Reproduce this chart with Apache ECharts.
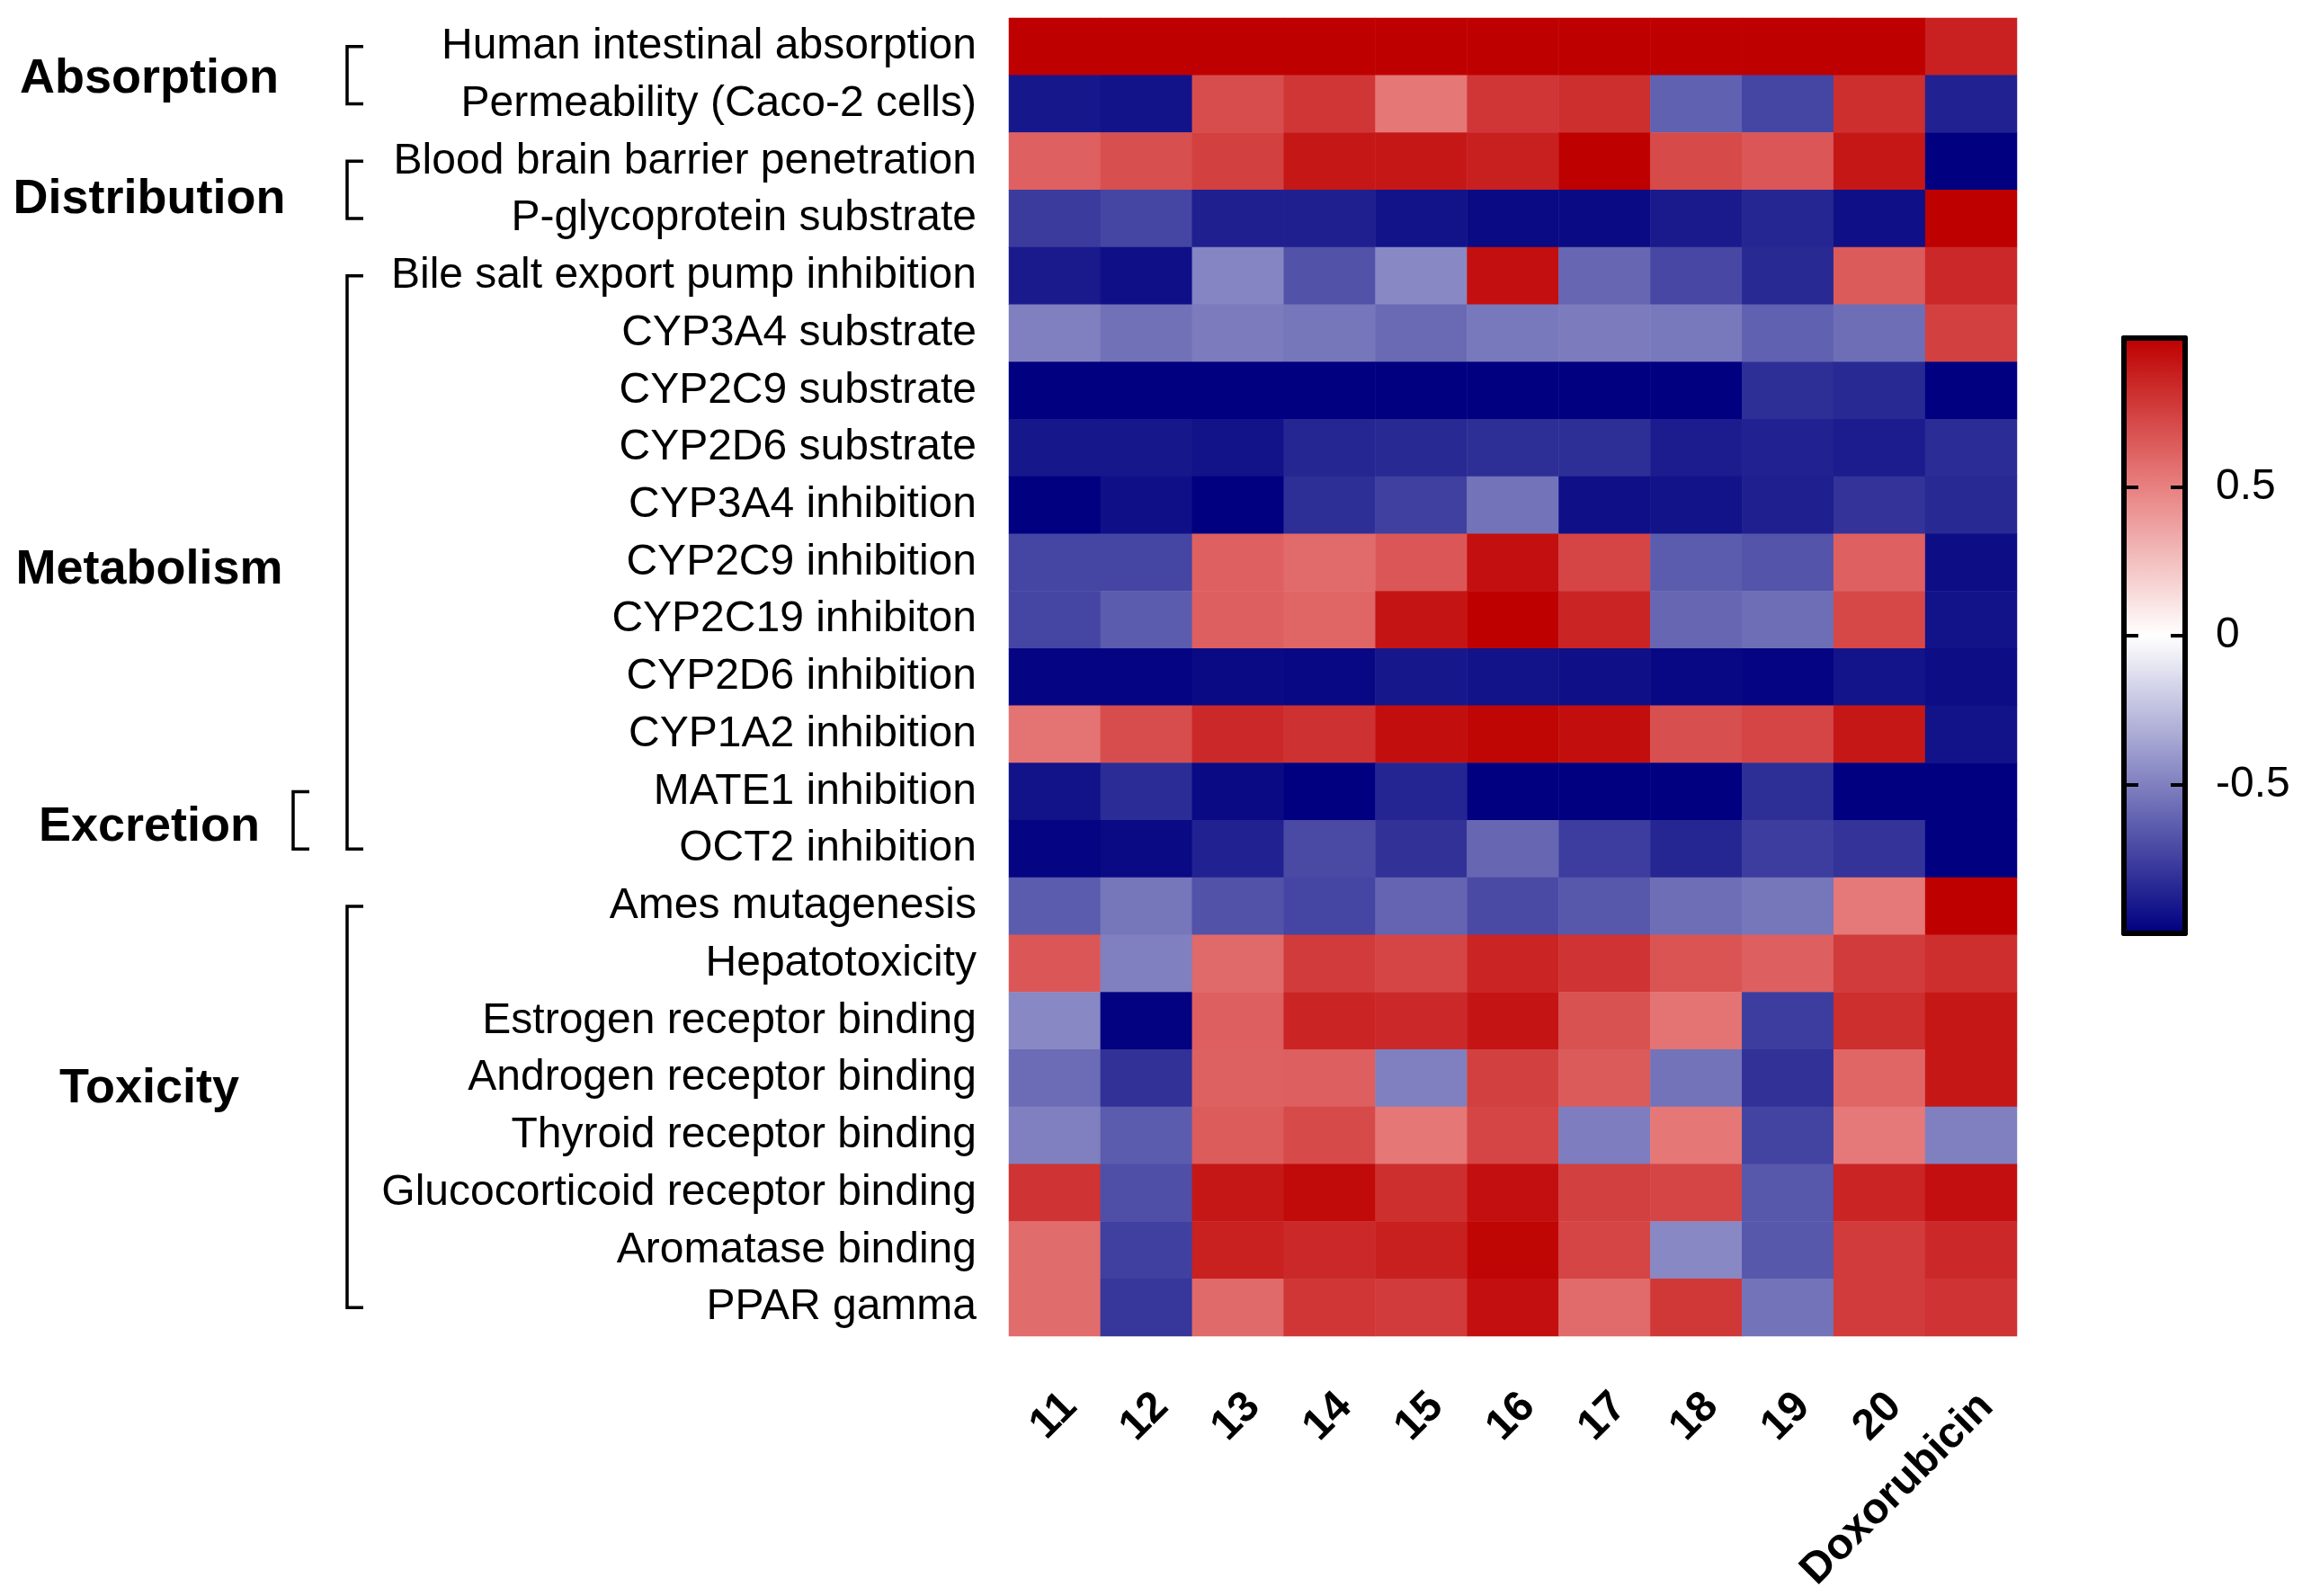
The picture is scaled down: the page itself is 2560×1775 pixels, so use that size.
<!DOCTYPE html>
<html>
<head>
<meta charset="utf-8">
<title>ADMET heatmap</title>
<script src="https://cdn.jsdelivr.net/npm/echarts@6/dist/echarts.min.js"></script>
<style>
    html, body { margin: 0; padding: 0; background: #ffffff; }
    #chartmain { width: 2560px; height: 1775px; }
</style>
</head>
<body>
<div id="chartmain"></div>
<script>
// compounds (columns) and predicted properties (rows)
var compounds = ['11', '12', '13', '14', '15', '16', '17', '18', '19', '20', 'Doxorubicin'];
var properties = [
    'Human intestinal absorption',
    'Permeability (Caco-2 cells)',
    'Blood brain barrier penetration',
    'P-glycoprotein substrate',
    'Bile salt export pump inhibition',
    'CYP3A4 substrate',
    'CYP2C9 substrate',
    'CYP2D6 substrate',
    'CYP3A4 inhibition',
    'CYP2C9 inhibition',
    'CYP2C19 inhibiton',
    'CYP2D6 inhibition',
    'CYP1A2 inhibition',
    'MATE1 inhibition',
    'OCT2 inhibition',
    'Ames mutagenesis',
    'Hepatotoxicity',
    'Estrogen receptor binding',
    'Androgen receptor binding',
    'Thyroid receptor binding',
    'Glucocorticoid receptor binding',
    'Aromatase binding',
    'PPAR gamma'
];

// scores, one row per property, columns in the order of compounds
var absorptionScores = [
    [1.0, 1.0, 1.0, 1.0, 1.0, 1.0, 1.0, 1.0, 1.0, 1.0, 0.87],
    [-0.91, -0.93, 0.70, 0.79, 0.535, 0.79, 0.82, -0.62, -0.73, 0.82, -0.87]
];
var distributionScores = [
    [0.625, 0.69, 0.75, 0.91, 0.91, 0.88, 1.0, 0.71, 0.66, 0.91, -1.0],
    [-0.77, -0.73, -0.88, -0.88, -0.93, -0.96, -0.96, -0.90, -0.85, -0.94, 1.0]
];
var metabolismScores = [
    [-0.90, -0.94, -0.48, -0.68, -0.47, 0.94, -0.60, -0.72, -0.84, 0.65, 0.84],
    [-0.50, -0.56, -0.52, -0.54, -0.59, -0.53, -0.52, -0.53, -0.62, -0.57, 0.75],
    [-1.0, -1.0, -1.0, -1.0, -1.0, -1.0, -1.0, -1.0, -0.82, -0.84, -1.0],
    [-0.91, -0.91, -0.93, -0.85, -0.84, -0.82, -0.82, -0.89, -0.87, -0.89, -0.83],
    [-1.0, -0.94, -1.0, -0.82, -0.75, -0.55, -0.94, -0.93, -0.88, -0.80, -0.84],
    [-0.73, -0.73, 0.625, 0.585, 0.66, 0.94, 0.73, -0.64, -0.67, 0.625, -0.95],
    [-0.73, -0.64, 0.63, 0.60, 0.92, 1.0, 0.86, -0.60, -0.57, 0.72, -0.93],
    [-0.98, -0.98, -0.96, -0.97, -0.91, -0.93, -0.94, -0.97, -0.98, -0.92, -0.95],
    [0.55, 0.70, 0.84, 0.81, 0.945, 0.98, 0.945, 0.69, 0.73, 0.91, -0.93],
    [-0.93, -0.83, -0.96, -1.0, -0.86, -1.0, -1.0, -1.0, -0.82, -1.0, -1.0],
    [-0.98, -0.96, -0.87, -0.71, -0.81, -0.60, -0.76, -0.85, -0.76, -0.80, -1.0]
];
var toxicityScores = [
    [-0.64, -0.54, -0.68, -0.73, -0.61, -0.71, -0.66, -0.57, -0.54, 0.53, 1.0],
    [0.66, -0.50, 0.59, 0.77, 0.73, 0.86, 0.80, 0.67, 0.63, 0.77, 0.82],
    [-0.47, -0.99, 0.63, 0.86, 0.84, 0.92, 0.68, 0.55, -0.76, 0.82, 0.91],
    [-0.58, -0.81, 0.62, 0.63, -0.50, 0.75, 0.65, -0.55, -0.81, 0.60, 0.91],
    [-0.50, -0.64, 0.645, 0.71, 0.535, 0.73, -0.51, 0.535, -0.74, 0.53, -0.50],
    [0.80, -0.69, 0.91, 0.96, 0.82, 0.94, 0.75, 0.73, -0.66, 0.86, 0.94],
    [0.58, -0.75, 0.875, 0.84, 0.88, 0.98, 0.73, -0.47, -0.66, 0.77, 0.84],
    [0.58, -0.79, 0.59, 0.79, 0.77, 0.94, 0.585, 0.78, -0.55, 0.77, 0.80]
];

// property groups, by first and last row
var groups = [
    { name: 'Absorption', from: 0, to: 1 },
    { name: 'Distribution', from: 2, to: 3 },
    { name: 'Metabolism', from: 4, to: 14 },
    { name: 'Excretion', from: 13, to: 14 },
    { name: 'Toxicity', from: 15, to: 22 }
];

// colour scale
var scaleMin = -1;
var scaleMax = 1;
var colorTicks = [-0.5, 0, 0.5];

// layout (pixels)
var fontName = '"Liberation Sans", Arial, sans-serif';
var groupLayout = {
    Absorption: { lineX: 386, labelDy: 4 },
    Distribution: { lineX: 386, labelDy: 11 },
    Metabolism: { lineX: 386, labelDy: 9 },
    Excretion: { lineX: 326, labelDy: 8 },
    Toxicity: { lineX: 386, labelDy: -20 }
};
var groupLabelX = 166;
var bracketTick = 18;

var scores = absorptionScores.concat(distributionScores, metabolismScores, toxicityScores);
var heatData = [];
scores.forEach(function (row, y) {
    row.forEach(function (v, x) {
        heatData.push([x, y, v]);
    });
});

var barAxisLine = { show: true, onZero: false, lineStyle: { color: '#000', width: 6 } };

var option = {
    backgroundColor: '#ffffff',
    animation: false,
    grid: [{
        left: 1122, top: 20, width: 1121, height: 1466, outerBoundsMode: 'none'
    }, {
        left: 2362, top: 376, width: 68, height: 662, outerBoundsMode: 'none'
    }],
    xAxis: [{
        type: 'category',
        gridIndex: 0,
        data: compounds,
        position: 'bottom',
        axisLine: { show: false },
        axisTick: { show: false },
        splitLine: { show: false },
        axisLabel: {
            interval: 0,
            rotate: 45,
            margin: 54,
            align: 'right',
            verticalAlign: 'top',
            color: '#000',
            fontSize: 48,
            fontWeight: 'bold',
            fontFamily: fontName
        }
    }, {
        type: 'category',
        gridIndex: 1,
        data: [''],
        position: 'bottom',
        axisLine: barAxisLine,
        axisTick: { show: false },
        axisLabel: { show: false },
        z: 10
    }, {
        type: 'category',
        gridIndex: 1,
        data: [''],
        position: 'top',
        axisLine: barAxisLine,
        axisTick: { show: false },
        axisLabel: { show: false },
        z: 10
    }],
    yAxis: [{
        type: 'category',
        gridIndex: 0,
        data: properties,
        inverse: true,
        axisLine: { show: false },
        axisTick: { show: false },
        splitLine: { show: false },
        axisLabel: {
            interval: 0,
            margin: 36,
            padding: [10, 0, 0, 0],
            color: '#000',
            fontSize: 48,
            fontFamily: fontName
        }
    }, {
        type: 'value',
        gridIndex: 1,
        min: scaleMin,
        max: scaleMax,
        position: 'left',
        axisLine: barAxisLine,
        axisTick: { show: true, inside: true, length: 16, customValues: colorTicks, lineStyle: { color: '#000', width: 4 } },
        axisLabel: { show: false },
        splitLine: { show: false },
        z: 10
    }, {
        type: 'value',
        gridIndex: 1,
        min: scaleMin,
        max: scaleMax,
        position: 'right',
        axisLine: barAxisLine,
        axisTick: { show: true, inside: true, length: 16, customValues: colorTicks, lineStyle: { color: '#000', width: 4 } },
        axisLabel: {
            show: true,
            customValues: colorTicks,
            margin: 34,
            color: '#000',
            fontSize: 48,
            fontFamily: fontName
        },
        splitLine: { show: false },
        z: 10
    }],
    visualMap: {
        type: 'continuous',
        seriesIndex: 0,
        min: scaleMin,
        max: scaleMax,
        calculable: false,
        hoverLink: false,
        left: 2362,
        top: 376,
        itemWidth: 68,
        itemHeight: 662,
        padding: 0,
        inRange: {
            color: ['#000080', '#8080c0', '#ffffff', '#e88080', '#be0000']
        }
    },
    series: [{
        type: 'heatmap',
        xAxisIndex: 0,
        yAxisIndex: 0,
        data: heatData,
        itemStyle: { borderWidth: 0 },
        emphasis: { disabled: true }
    }]
};

var myChart = echarts.init(document.getElementById('chartmain'));
myChart.setOption(option);

// group labels and brackets, placed on the row centres of the category axis
var graphics = [];
groups.forEach(function (g) {
    var lay = groupLayout[g.name];
    var y0 = myChart.convertToPixel({ yAxisIndex: 0 }, g.from);
    var y1 = myChart.convertToPixel({ yAxisIndex: 0 }, g.to);
    graphics.push({
        type: 'polyline',
        shape: { points: [[lay.lineX + bracketTick, y0], [lay.lineX, y0], [lay.lineX, y1], [lay.lineX + bracketTick, y1]] },
        style: { stroke: '#000', lineWidth: 3.5, fill: null }
    });
    graphics.push({
        type: 'text',
        style: {
            text: g.name,
            x: groupLabelX,
            y: (y0 + y1) / 2 + lay.labelDy,
            fill: '#000',
            fontSize: 54,
            fontWeight: 'bold',
            fontFamily: fontName,
            align: 'center',
            verticalAlign: 'middle'
        }
    });
});
myChart.setOption({ graphic: graphics });
</script>
</body>
</html>
